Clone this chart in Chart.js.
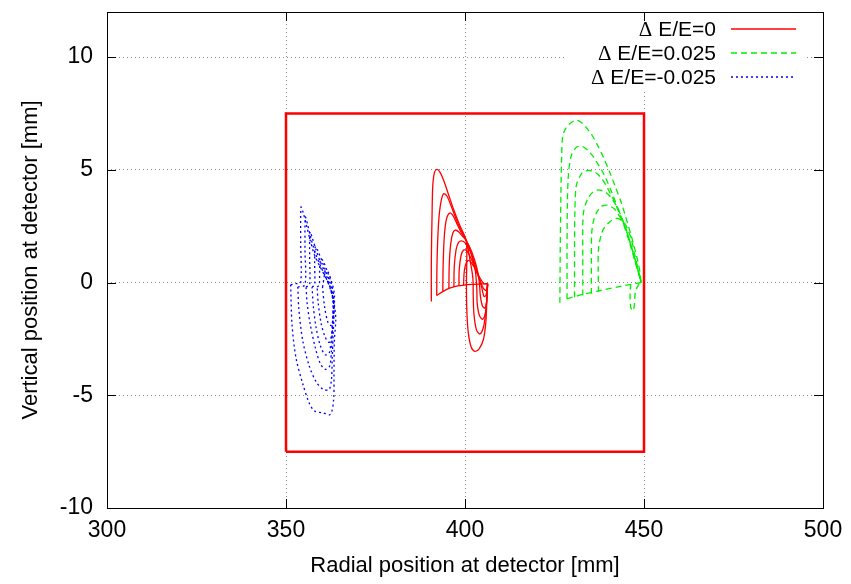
<!DOCTYPE html>
<html>
<head>
<meta charset="utf-8">
<script src="https://cdn.jsdelivr.net/npm/chart.js@4.4.0/dist/chart.umd.min.js"></script>
<style>
  html, body { margin: 0; padding: 0; background: #fff; }
</style>
</head>
<body>
<canvas id="myChart" width="851" height="584"></canvas>
<script>
var xTicks = [300, 350, 400, 450, 500];
var yTicks = [-10, -5, 0, 5, 10];
var keyLabels = ['\u0394 E/E=0', '\u0394 E/E=0.025', '\u0394 E/E=-0.025'];

// detector window
var box = [[350, -7.5], [450, -7.5], [450, 7.5], [350, 7.5], [350, -7.5]];

// dE/E = 0
var red1 = [[390.6,-0.84],[390.6,1.0],[390.8,3.0],[391.0,4.3],[391.5,4.9],[392.2,5.02],[393.0,4.9],[394.0,4.55],[395.3,3.95],[396.8,3.25],[398.5,2.55],[400.3,1.88],[400.5,1.0],[400.4,0.0],[400.5,-1.2],[400.9,-2.2],[401.7,-2.85],[402.7,-3.05],[403.9,-2.95],[405.1,-2.55],[405.8,-1.8],[406.1,-0.8],[406.3,-0.05]];
var red2 = [[392.1,-0.57],[392.2,1.0],[392.6,2.6],[393.2,3.5],[394.0,3.94],[394.9,3.85],[396.0,3.45],[397.3,2.9],[398.8,2.35],[400.3,1.88],[401.4,1.0],[402.2,0.2],[402.3,-0.6],[402.5,-1.4],[403.2,-2.1],[404.2,-2.28],[405.2,-1.95],[405.8,-1.3],[406.2,-0.5],[406.3,-0.05]];
var red3 = [[393.8,-0.4],[393.9,0.8],[394.2,2.0],[394.8,2.8],[395.7,3.08],[396.6,2.98],[397.7,2.62],[399.0,2.2],[400.3,1.88],[401.7,1.3],[402.9,0.5],[403.3,-0.3],[403.4,-0.9],[404.0,-1.45],[404.9,-1.63],[405.7,-1.35],[406.1,-0.7],[406.3,-0.05]];
var red4 = [[395.5,-0.26],[395.6,0.8],[396.0,1.7],[396.6,2.2],[397.3,2.33],[398.2,2.25],[399.3,2.05],[400.3,1.88],[401.9,1.35],[403.3,0.65],[404.0,0.0],[404.3,-0.6],[404.9,-1.05],[405.6,-1.13],[406.1,-0.75],[406.3,-0.05]];
var red5 = [[396.9,-0.2],[397.0,0.7],[397.5,1.45],[398.2,1.78],[399.0,1.85],[399.9,1.78],[401.3,1.45],[402.7,0.85],[403.9,0.25],[404.7,-0.25],[405.3,-0.62],[405.9,-0.55],[406.3,-0.05]];
var red6 = [[398.3,-0.15],[398.4,0.6],[398.9,1.2],[399.6,1.44],[400.4,1.42],[401.6,1.1],[402.9,0.6],[404.2,0.1],[405.1,-0.25],[405.9,-0.35],[406.4,-0.1]];
var red7 = [[399.6,-0.12],[399.8,0.5],[400.4,0.9],[401.2,0.98],[402.5,0.7],[404.0,0.25],[405.3,-0.05],[406.3,-0.05]];
var redBase = [[406.3,-0.05],[402.0,-0.08],[398.0,-0.15],[395.7,-0.25],[393.8,-0.4],[392.1,-0.57]];

// dE/E = 0.025
var green1 = [[426.5,-0.9],[426.6,1.5],[426.8,4.0],[427.0,5.6],[427.3,6.5],[428.3,6.88],[429.7,7.1],[431.1,7.2],[432.5,7.1],[434.0,6.85],[435.6,6.5],[437.1,6.07],[438.8,5.5],[440.4,4.9],[442.0,4.25],[443.6,3.57],[445.0,2.85],[446.4,2.1],[447.5,1.45],[448.3,0.93],[448.9,0.45],[449.2,0.0]];
var green2 = [[428.5,-0.73],[428.5,1.5],[428.6,3.5],[428.9,4.8],[429.7,5.63],[431.1,6.0],[432.5,6.05],[433.7,5.95],[434.8,5.78],[436.0,5.55],[437.1,5.26],[438.3,4.95],[439.4,4.6],[441.0,4.0],[442.7,3.3],[444.4,2.55],[446.0,1.75],[447.4,1.0],[448.5,0.4],[449.2,0.0]];
var green3 = [[430.6,-0.65],[430.6,1.5],[430.7,3.2],[431.1,4.3],[432.5,4.82],[433.6,4.95],[434.8,4.97],[436.0,4.92],[437.1,4.8],[438.3,4.58],[439.4,4.31],[440.6,3.95],[441.8,3.57],[443.3,3.0],[444.8,2.4],[446.2,1.7],[447.5,1.0],[448.6,0.4],[449.2,0.0]];
var green4 = [[432.9,-0.57],[432.9,1.2],[432.9,2.6],[433.2,3.2],[434.3,3.72],[435.7,4.01],[436.9,4.1],[438.0,4.09],[439.2,4.0],[440.4,3.85],[441.3,3.65],[442.2,3.43],[443.5,3.0],[444.8,2.45],[446.1,1.8],[447.4,1.1],[448.5,0.45],[449.2,0.0]];
var green5 = [[435.3,-0.5],[435.3,1.0],[435.4,2.2],[436.0,2.8],[437.1,3.2],[438.4,3.4],[439.8,3.43],[441.0,3.35],[441.8,3.25],[443.0,2.98],[444.1,2.69],[445.4,2.15],[446.6,1.5],[447.7,0.85],[448.6,0.35],[449.2,0.0]];
var green6 = [[437.3,-0.42],[437.2,0.6],[437.3,1.5],[438.0,2.1],[438.8,2.4],[440.4,2.69],[442.2,2.84],[443.5,2.78],[444.6,2.62],[445.6,2.3],[446.4,1.95],[447.4,1.25],[448.4,0.55],[449.2,0.0]];
var greenBase = [[449.2,0.0],[444.0,-0.15],[438.0,-0.35],[433.0,-0.52],[428.4,-0.73]];
var greenDip = [[448.6,-0.05],[447.6,-0.4],[447.3,-1.0],[446.9,-1.25],[446.3,-1.1],[446.1,-0.5],[446.3,-0.1]];

// dE/E = -0.025
var blue1 = [[351.3,-0.1],[352.6,-0.05],[354.1,0.0],[354.1,1.8],[354.2,3.35],[354.8,3.1],[355.7,2.55],[356.8,1.85],[358.0,1.2],[359.5,0.7],[361.0,0.25],[362.4,-0.25],[363.4,-0.9],[363.9,-1.6],[363.5,-2.6],[363.4,-4.0],[363.3,-5.2],[362.4,-5.85],[360.3,-5.78],[358.0,-5.7],[356.5,-5.35],[354.7,-4.5],[352.8,-3.35],[351.7,-1.9],[351.3,-0.1]];
var blue2 = [[353.3,-0.2],[355.3,-0.1],[355.3,1.5],[355.4,2.9],[356.0,2.6],[356.9,2.0],[358.1,1.35],[359.6,0.75],[361.2,0.2],[362.6,-0.4],[363.4,-1.1],[363.2,-2.2],[362.9,-3.4],[362.7,-4.3],[362.0,-4.75],[360.3,-4.73],[358.4,-4.4],[356.5,-3.7],[354.7,-2.6],[353.6,-1.2],[353.3,-0.2]];
var blue3 = [[355.6,-0.2],[356.6,-0.1],[356.6,1.2],[356.7,2.25],[357.3,2.0],[358.3,1.5],[359.5,0.95],[360.9,0.45],[362.2,-0.1],[363.1,-0.8],[363.0,-1.9],[362.7,-3.0],[362.2,-3.7],[361.0,-3.85],[359.6,-3.6],[358.2,-2.9],[356.7,-1.8],[355.9,-0.9],[355.6,-0.2]];
var blue4 = [[357.3,-0.2],[358.0,-0.1],[358.0,0.9],[358.2,1.6],[358.8,1.45],[359.8,1.05],[361.0,0.55],[362.3,0.0],[363.2,-0.7],[363.0,-1.7],[362.6,-2.6],[362.0,-3.15],[360.9,-3.2],[359.6,-2.8],[358.4,-2.0],[357.6,-1.0],[357.3,-0.2]];
var blue5 = [[358.7,-0.2],[359.3,-0.1],[359.4,0.6],[359.7,1.05],[360.4,0.95],[361.4,0.55],[362.5,0.05],[363.3,-0.6],[363.2,-1.5],[362.8,-2.3],[362.0,-2.65],[360.9,-2.4],[359.8,-1.8],[359.0,-0.9],[358.7,-0.2]];
var blue6 = [[360.2,-0.2],[360.6,0.2],[361.0,0.55],[361.8,0.45],[362.8,0.0],[363.5,-0.5],[363.4,-1.3],[362.8,-1.9],[361.8,-1.8],[360.8,-1.1],[360.2,-0.2]];

var RED = '#ff0000', GREEN = '#00ee00', BLUE = '#0000ff';
var DASH_G = [6, 4], DASH_B = [2, 3];

function curve(pts, color, dash, width, tension) {
   return {
      data: pts.map(function(p) { return { x: p[0], y: p[1] }; }),
      showLine: true,
      borderColor: color,
      borderWidth: width,
      borderDash: dash,
      pointRadius: 0,
      tension: tension,
      fill: false
   };
}

var datasets = [curve(box, RED, [], 2.5, 0)];
[red1, red2, red3, red4, red5, red6, red7, redBase].forEach(function(p) {
   datasets.push(curve(p, RED, [], 1.3, 0.3));
});
[green1, green2, green3, green4, green5, green6, greenBase, greenDip].forEach(function(p) {
   datasets.push(curve(p, GREEN, DASH_G, 1.3, 0.3));
});
[blue1, blue2, blue3, blue4, blue5, blue6].forEach(function(p) {
   datasets.push(curve(p, BLUE, DASH_B, 1.3, 0.3));
});

var keyStyles = [[RED, []], [GREEN, DASH_G], [BLUE, DASH_B]];

// border, inward ticks and the key box
var frame = {
   id: 'frame',
   afterDatasetsDraw: function(chart) {
      var ctx = chart.ctx, a = chart.chartArea;
      var sx = chart.scales.x, sy = chart.scales.y;
      ctx.save();

      ctx.fillStyle = '#fff';
      ctx.fillRect(566, 15, 240, 76);
      keyLabels.forEach(function(lab, i) {
         var y = 30 + i * 24;
         var sym = lab.charAt(0), rest = lab.slice(1);
         ctx.fillStyle = '#000';
         ctx.textAlign = 'right';
         ctx.textBaseline = 'middle';
         ctx.font = '21px "Liberation Sans"';
         ctx.fillText(rest, 716, y);
         var w = ctx.measureText(rest).width;
         ctx.font = '21px "Liberation Serif"';
         ctx.fillText(sym, 716 - w, y);
         ctx.strokeStyle = keyStyles[i][0];
         ctx.setLineDash(keyStyles[i][1]);
         ctx.lineWidth = 1.5;
         ctx.beginPath();
         ctx.moveTo(731, y - 1);
         ctx.lineTo(796, y - 1);
         ctx.stroke();
      });

      ctx.setLineDash([]);
      ctx.strokeStyle = '#000';
      ctx.lineWidth = 1;
      ctx.beginPath();
      xTicks.forEach(function(v) {
         var px = Math.round(sx.getPixelForValue(v)) + 0.5;
         ctx.moveTo(px, a.bottom); ctx.lineTo(px, a.bottom - 9);
         ctx.moveTo(px, a.top); ctx.lineTo(px, a.top + 9);
      });
      yTicks.forEach(function(v) {
         var py = Math.round(sy.getPixelForValue(v)) + 0.5;
         ctx.moveTo(a.left, py); ctx.lineTo(a.left + 9, py);
         ctx.moveTo(a.right, py); ctx.lineTo(a.right - 9, py);
      });
      ctx.stroke();
      ctx.strokeRect(Math.round(a.left) + 0.5, Math.round(a.top) + 0.5,
         Math.round(a.right - a.left), Math.round(a.bottom - a.top));
      ctx.restore();
   }
};

function gridColor(edges) {
   return function(c) {
      return edges.indexOf(c.tick.value) >= 0 ? 'rgba(0,0,0,0)' : '#888';
   };
}

function noEdgePadding(s) {
   s.paddingTop = 0; s.paddingBottom = 0; s.paddingLeft = 0; s.paddingRight = 0;
}

var tickFont = { family: 'Liberation Sans', size: 23 };
var titleFont = { family: 'Liberation Sans', size: 22 };

var ctx = document.getElementById('myChart').getContext('2d');
var chart = new Chart(ctx, {
   type: 'scatter',
   data: { datasets: datasets },
   options: {
      responsive: false,
      animation: false,
      layout: { padding: { top: 12, right: 28, left: 0, bottom: 0 } },
      plugins: { legend: { display: false }, tooltip: { enabled: false } },
      scales: {
         x: {
            type: 'linear', min: 300, max: 500,
            afterBuildTicks: function(s) { s.ticks = xTicks.map(function(v) { return { value: v }; }); },
            afterFit: function(s) { s.height = 76; noEdgePadding(s); },
            grid: { color: gridColor([300, 500]), lineWidth: 1, drawTicks: false },
            border: { display: false, dash: [1, 3] },
            ticks: { color: '#000', font: tickFont, padding: 9, maxRotation: 0 },
            title: { display: true, text: 'Radial position at detector [mm]', color: '#000', font: titleFont, padding: { top: 0, bottom: 5 } }
         },
         y: {
            type: 'linear', min: -10, max: 12,
            afterBuildTicks: function(s) { s.ticks = yTicks.map(function(v) { return { value: v }; }); },
            afterFit: function(s) { s.width = 107; noEdgePadding(s); },
            grid: { color: gridColor([-10]), lineWidth: 1, drawTicks: false },
            border: { display: false, dash: [1, 3] },
            ticks: { color: '#000', font: tickFont, padding: 14 },
            title: { display: true, text: 'Vertical position at detector [mm]', color: '#000', font: titleFont, padding: { top: 18, bottom: 0 } }
         }
      }
   },
   plugins: [frame]
});
</script>
</body>
</html>
